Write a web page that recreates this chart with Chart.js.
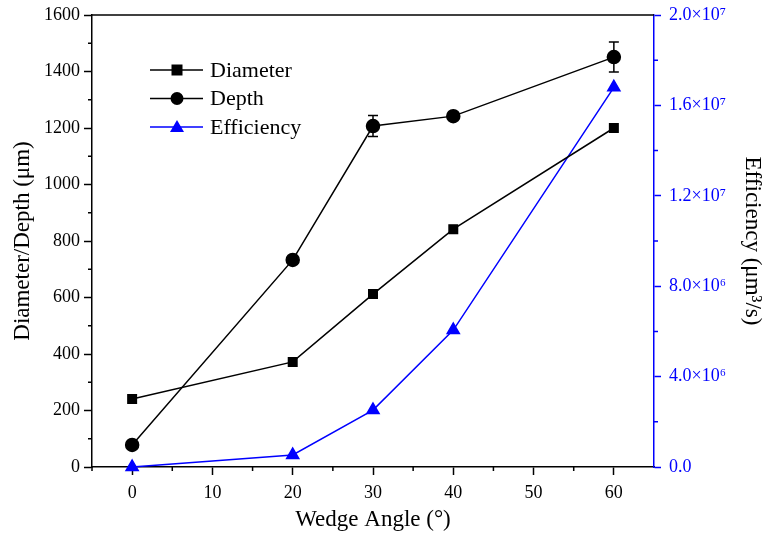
<!DOCTYPE html>
<html>
<head>
<meta charset="utf-8">
<script src="https://cdn.jsdelivr.net/npm/chart.js@4"></script>
<style>
  body { margin: 0; background: #fff; }
  #wrap { width: 772px; height: 539px; }
</style>
</head>
<body>
<div id="wrap"><canvas id="angleChart" width="772" height="539"></canvas></div>
<script>
// data
const angles = [0, 20, 30, 40, 60];
const diameter = [241, 372, 612, 842, 1200];
const depth = [78, 733, 1207, 1242, 1451];
const depthErr = [0, 0, 37, 0, 53];
const efficiency = [0, 0.53e6, 2.52e6, 6.06e6, 1.68e7];
const xTicks = [0, 10, 20, 30, 40, 50, 60];
const leftTicks = [0, 200, 400, 600, 800, 1000, 1200, 1400, 1600];
const rightTicks = [0, 4e6, 8e6, 1.2e7, 1.6e7, 2.0e7];

const BLUE = '#0000ff';
const FONT = "'Liberation Serif', 'Times New Roman', serif";
const SUP = { '0': '⁰', '1': '¹', '2': '²', '3': '³', '4': '⁴', '5': '⁵', '6': '⁶', '7': '⁷', '8': '⁸', '9': '⁹' };

function sciLabel(v) {
  if (v === 0) return '0.0';
  const e = Math.floor(Math.log10(v) + 1e-9);
  const m = v / Math.pow(10, e);
  return m.toFixed(1) + '×10' + String(e).split('').map(c => SUP[c]).join('');
}

function toPoints(ys) {
  return angles.map((a, i) => ({ x: a, y: ys[i] }));
}

// error bars on Depth
const errorBars = {
  id: 'errorBars',
  afterDatasetsDraw(chart) {
    const ctx = chart.ctx;
    const x = chart.scales.x, y = chart.scales.y;
    ctx.save();
    ctx.strokeStyle = '#000';
    ctx.lineWidth = 1.5;
    depthErr.forEach((e, i) => {
      if (!e) return;
      const px = x.getPixelForValue(angles[i]);
      const top = y.getPixelForValue(depth[i] + e);
      const bot = y.getPixelForValue(depth[i] - e);
      ctx.beginPath();
      ctx.moveTo(px, top); ctx.lineTo(px, bot);
      ctx.moveTo(px - 5, top); ctx.lineTo(px + 5, top);
      ctx.moveTo(px - 5, bot); ctx.lineTo(px + 5, bot);
      ctx.stroke();
    });
    ctx.restore();
  }
};

// minor ticks, top frame line and the inside legend
const decorations = {
  id: 'decorations',
  afterDraw(chart) {
    const ctx = chart.ctx;
    const area = chart.chartArea;
    ctx.save();
    ctx.lineWidth = 1.5;

    // top border
    ctx.strokeStyle = '#000';
    ctx.beginPath();
    ctx.moveTo(area.left, area.top);
    ctx.lineTo(area.right, area.top);
    ctx.stroke();

    // minor ticks
    const minor = (scale, vals, color, dir) => {
      ctx.strokeStyle = color;
      ctx.beginPath();
      for (let i = 0; i < vals.length - 1; i++) {
        const mid = (vals[i] + vals[i + 1]) / 2;
        const p = scale.getPixelForValue(mid);
        if (dir === 'down') { ctx.moveTo(p, area.bottom); ctx.lineTo(p, area.bottom + 4); }
        if (dir === 'left') { ctx.moveTo(area.left, p); ctx.lineTo(area.left - 4, p); }
        if (dir === 'right') { ctx.moveTo(area.right, p); ctx.lineTo(area.right + 4, p); }
      }
      ctx.stroke();
    };
    minor(chart.scales.x, [-10].concat(xTicks), '#000', 'down');
    minor(chart.scales.y, leftTicks, '#000', 'left');
    minor(chart.scales.y2, rightTicks, BLUE, 'right');

    // legend
    ctx.font = '22px ' + FONT;
    ctx.textBaseline = 'middle';
    chart.data.datasets.forEach((ds, i) => {
      const yy = 70 + i * 28.5;
      ctx.strokeStyle = ds.borderColor;
      ctx.lineWidth = 1.5;
      ctx.beginPath();
      ctx.moveTo(150, yy); ctx.lineTo(203, yy);
      ctx.stroke();
      ctx.fillStyle = ds.pointBackgroundColor;
      ctx.beginPath();
      if (ds.pointStyle === 'rect') {
        ctx.rect(171.5, yy - 5.5, 11, 11);
      } else if (ds.pointStyle === 'circle') {
        ctx.arc(177, yy, 6.5, 0, Math.PI * 2);
      } else {
        ctx.moveTo(177, yy - 7); ctx.lineTo(184, yy + 5); ctx.lineTo(170, yy + 5); ctx.closePath();
      }
      ctx.fill();
      ctx.fillStyle = '#000';
      ctx.fillText(ds.label, 210, yy + 1);
    });
    ctx.restore();
  }
};

const ctx = document.getElementById('angleChart').getContext('2d');
new Chart(ctx, {
  type: 'line',
  data: {
    datasets: [{
      label: 'Diameter',
      data: toPoints(diameter),
      borderColor: '#000',
      pointBackgroundColor: '#000',
      pointBorderColor: '#000',
      pointStyle: 'rect',
      pointRadius: 6,
      borderWidth: 1.5,
      yAxisID: 'y'
    }, {
      label: 'Depth',
      data: toPoints(depth),
      borderColor: '#000',
      pointBackgroundColor: '#000',
      pointBorderColor: '#000',
      pointStyle: 'circle',
      pointRadius: 6.5,
      borderWidth: 1.5,
      yAxisID: 'y'
    }, {
      label: 'Efficiency',
      data: toPoints(efficiency),
      borderColor: BLUE,
      pointBackgroundColor: BLUE,
      pointBorderColor: BLUE,
      pointStyle: 'triangle',
      pointRadius: 7,
      borderWidth: 1.5,
      yAxisID: 'y2'
    }]
  },
  options: {
    responsive: false,
    animation: false,
    clip: false,
    layout: { padding: { top: 15, right: 0, left: 0, bottom: 0 } },
    plugins: { legend: { display: false }, tooltip: { enabled: false } },
    scales: {
      x: {
        type: 'linear',
        min: -5,
        max: 65,
        afterBuildTicks: s => { s.ticks = xTicks.map(v => ({ value: v })); },
        afterFit: s => { s.height = 72; s.paddingLeft = 0; s.paddingRight = 0; },
        grid: { drawOnChartArea: false, tickLength: 8, color: '#000', tickWidth: 1.5 },
        border: { color: '#000', width: 1.5 },
        ticks: { color: '#000', padding: 7, maxRotation: 0, font: { family: FONT, size: 18 } },
        title: { display: true, text: 'Wedge Angle (°)', color: '#000', padding: { top: 0, bottom: 5 }, font: { family: FONT, size: 23 } }
      },
      y: {
        position: 'left',
        min: 0,
        max: 1600,
        afterBuildTicks: s => { s.ticks = leftTicks.map(v => ({ value: v })); },
        afterFit: s => { s.width = 92; s.paddingTop = 0; s.paddingBottom = 0; },
        grid: { drawOnChartArea: false, tickLength: 8, color: '#000', tickWidth: 1.5 },
        border: { color: '#000', width: 1.5 },
        ticks: { color: '#000', padding: 4, font: { family: FONT, size: 18 }, callback: v => String(v) },
        title: { display: true, text: 'Diameter/Depth (μm)', color: '#000', padding: { top: 9, bottom: 0 }, font: { family: FONT, size: 23 } }
      },
      y2: {
        position: 'right',
        min: 0,
        max: 2e7,
        afterBuildTicks: s => { s.ticks = rightTicks.map(v => ({ value: v })); },
        afterFit: s => { s.width = 118; s.paddingTop = 0; s.paddingBottom = 0; },
        grid: { drawOnChartArea: false, tickLength: 7, color: BLUE, tickWidth: 1.5 },
        border: { color: BLUE, width: 1.5 },
        ticks: { color: BLUE, padding: 8, font: { family: FONT, size: 18 }, callback: v => sciLabel(v) },
        title: { display: true, text: 'Efficiency (μm³/s)', color: '#000', padding: { top: 6, bottom: 0 }, font: { family: FONT, size: 23 } }
      }
    }
  },
  plugins: [errorBars, decorations]
});
</script>
</body>
</html>
